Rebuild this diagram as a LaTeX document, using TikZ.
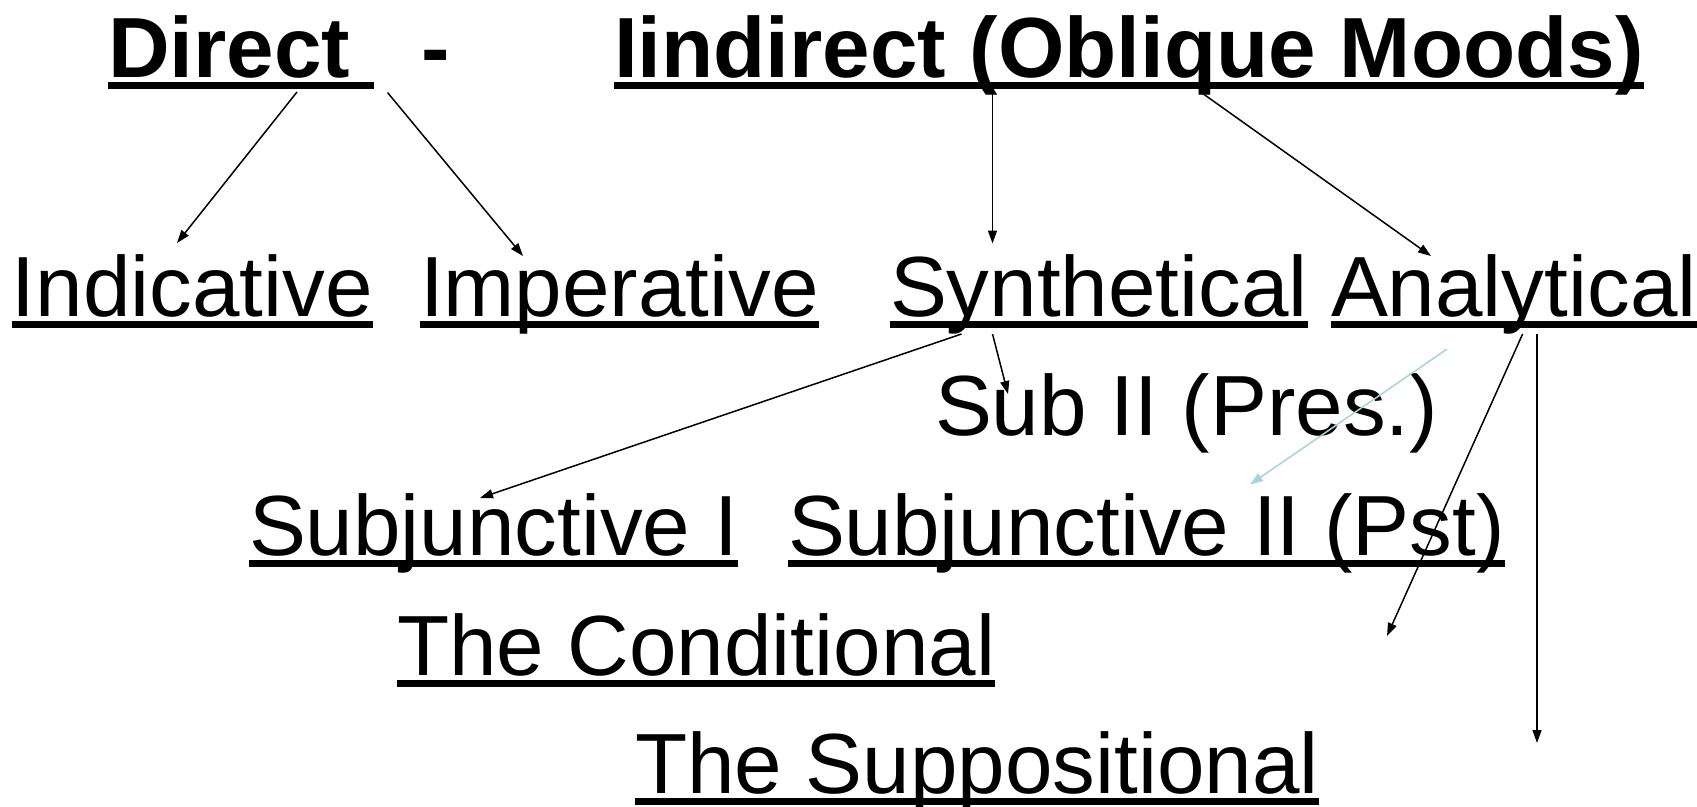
\documentclass[tikz,border=0pt]{standalone}
\usepackage{fontspec}
\setmainfont{Liberation Sans}
\usetikzlibrary{arrows.meta}

\definecolor{paleblue}{RGB}{165,212,218}
\newcommand\moodfont{\fontsize{85.4}{100}\selectfont}
\newcommand\headfont{\fontsize{85.4}{100}\selectfont\bfseries}
\newcommand\mooduline[1]{\sbox0{#1}\rlap{\rule[-0.145em]{\wd0}{0.085em}}\usebox0}

\tikzset{
  mood/.style={inner sep=0pt, outer sep=0pt, anchor=base west, font=\moodfont},
  head/.style={mood, font=\headfont},
  arr/.style={-{Triangle[length=13pt,width=9pt]}, line width=1.5pt},
}

\begin{document}
\begin{tikzpicture}[x=1pt, y=-1pt]
\useasboundingbox (0,0) rectangle (1697,806);

% Top line
\node[head] (direct) at (108,77) {\mooduline{Direct }};
\node[head, anchor=base] (dash) at (436,77) {-};
\node[head] (indirect) at (614,77) {\mooduline{Iindirect (Oblique Moods)}};

% Second line
\node[mood] (indic) at (12,316) {\mooduline{Indicative}};
\node[mood] (imper) at (420,316) {\mooduline{Imperative}};
\node[mood] (synth) at (890,316) {\mooduline{Synthetical}};
\node[mood] (analyt) at (1331,316) {\mooduline{Analytical}};

% Lower lines
\node[mood] (subpres) at (935,435) {Sub II (Pres.)};
\node[mood] (subjone) at (249,555) {\mooduline{Subjunctive I}};
\node[mood] (subjtwo) at (788,555) {\mooduline{Subjunctive II (Pst)}};
\node[mood] (cond) at (397,675) {\mooduline{The Conditional}};
\node[mood] (supp) at (635,793) {\mooduline{The Suppositional}};

% Free ends
\coordinate (bluestart) at (1447,349);
\coordinate (blueend) at (1250,484.5);
\coordinate (condend) at (1387,636);
\coordinate (suppend) at (1537,743);

% Arrows
\draw[arr] ([shift={(189,15)}]direct.base west) -- ([shift={(165,-73)}]indic.base west);
\draw[arr] ([shift={(279.5,15.5)}]direct.base west) -- ([shift={(103,-60)}]imper.base west);
\draw[arr] ([shift={(378.5,16)}]indirect.base west) -- ([shift={(102.5,-72.5)}]synth.base west);
\draw[arr] ([shift={(588,16)}]indirect.base west) -- ([shift={(100,-60)}]analyt.base west);
\draw[arr] ([shift={(71.5,18)}]synth.base west) -- ([shift={(231,-57)}]subjone.base west);
\draw[arr] ([shift={(102.5,18)}]synth.base west) -- ([shift={(73,-41)}]subpres.base west);
\draw[arr, paleblue] (bluestart) -- (blueend);
\draw[arr] ([shift={(191.6,18)}]analyt.base west) -- (condend);
\draw[arr] ([shift={(206,18)}]analyt.base west) -- (suppend);

\end{tikzpicture}
\end{document}
